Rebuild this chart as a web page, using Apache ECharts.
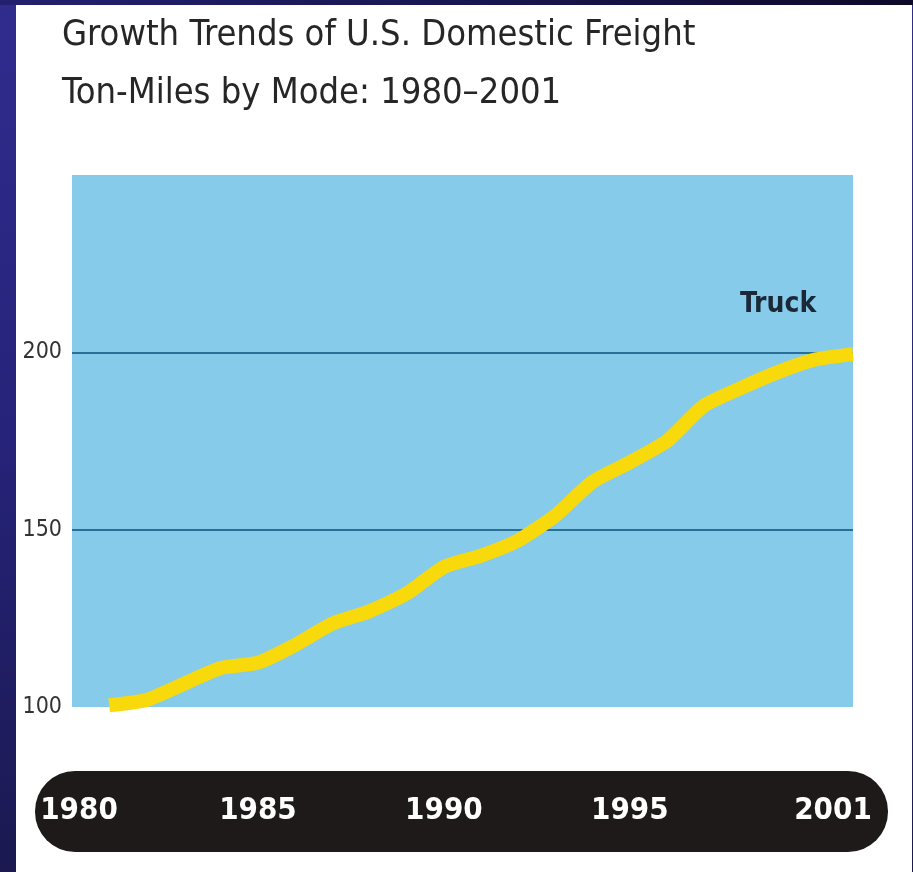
<!DOCTYPE html>
<html>
<head>
<meta charset="utf-8">
<script src="https://cdn.jsdelivr.net/npm/echarts@6/dist/echarts.min.js"></script>
<style>
  html, body { margin: 0; padding: 0; }
  body {
    width: 913px; height: 872px; overflow: hidden; position: relative;
    background: linear-gradient(180deg, #2f2c8e 0%, #26237a 50%, #1b1950 100%);
  }
  #topbar { position: absolute; left: 0; top: 0; width: 913px; height: 5px;
    background: linear-gradient(90deg, #232070 0%, #16144a 60%, #0c0a28 100%); }
  #panel { position: absolute; left: 16px; top: 5px; width: 896px; height: 867px; background: #ffffff; }
  #chart { position: absolute; left: 0; top: 0; width: 913px; height: 872px; }
</style>
</head>
<body>
<div id="topbar"></div>
<div id="panel"></div>
<div id="chart"></div>
<script>
// ---- data ----
const years = [1981, 1982, 1983, 1984, 1985, 1986, 1987, 1988, 1989, 1990, 1991,
               1992, 1993, 1994, 1995, 1996, 1997, 1998, 1999, 2000, 2001];
const truck = [100.5, 102, 106.5, 111, 112.5, 117.5, 123.5, 127, 132, 139.5, 142.7,
               147, 154, 163.5, 169, 175, 185, 190, 194.5, 198, 199.5];
const xTickLabels = [1980, 1985, 1990, 1995, 2001];
const yTickLabels = [100, 150, 200];
const titleLines = ['Growth Trends of U.S. Domestic Freight', 'Ton-Miles by Mode: 1980\u20132001'];
const seriesName = 'Truck';

const narrow = '"Liberation Sans Narrow", "DejaVu Sans Condensed", "Roboto Condensed", sans-serif';
const xLabelBase = { color: '#ffffff', fontFamily: narrow, fontWeight: 'bold', fontSize: 31 };

const chart = echarts.init(document.getElementById('chart'), null, { renderer: 'canvas' });
chart.setOption({
  backgroundColor: 'transparent',
  animation: false,
  graphic: [
    { type: 'text', left: 62, top: 18, z: 5,
      style: { text: titleLines[0], fill: '#262626', font: '36px ' + narrow } },
    { type: 'text', left: 62, top: 76, z: 5,
      style: { text: titleLines[1], fill: '#262626', font: '36px ' + narrow } },
    { type: 'rect', z: 0,
      shape: { x: 35, y: 771, width: 853, height: 81, r: 40 },
      style: { fill: '#1e1a1a' } },
    { type: 'text', left: 740, top: 291, z: 5,
      style: { text: seriesName, fill: '#1b2838', font: 'bold 28px ' + narrow } }
  ],
  grid: {
    left: 72, top: 175, right: 60, bottom: 165,
    show: true, backgroundColor: '#86cbea', borderWidth: 0
  },
  xAxis: {
    type: 'value', min: 1980, max: 2001, interval: 5, z: 10,
    axisLine: { show: false }, axisTick: { show: false }, splitLine: { show: false },
    axisLabel: Object.assign({}, xLabelBase, {
      margin: 104, verticalAlign: 'middle',
      formatter: v => {
        if (!xTickLabels.includes(v)) return '';
        if (v === xTickLabels[0]) return '{first|' + v + '}';
        if (v === xTickLabels[xTickLabels.length - 1]) return '{last|' + v + '}';
        return String(v);
      },
      rich: {
        first: Object.assign({}, xLabelBase, { padding: [0, 0, 0, 14] }),
        last: Object.assign({}, xLabelBase, { padding: [0, 40, 0, 0] })
      }
    })
  },
  yAxis: {
    type: 'value', min: 100, max: 250, interval: 50,
    axisLine: { show: false }, axisTick: { show: false },
    splitLine: { show: true, showMinLine: false, showMaxLine: false,
      lineStyle: { color: '#2a6f98', width: 2 } },
    axisLabel: {
      color: '#333333', fontFamily: narrow, fontSize: 23, margin: 10,
      formatter: v => yTickLabels.includes(v) ? String(v) : ''
    }
  },
  series: [{
    name: seriesName, type: 'line',
    data: years.map((y, i) => [y, truck[i]]),
    showSymbol: false, smooth: 0.2,
    lineStyle: { color: '#f8da0c', width: 14, cap: 'butt', join: 'round' }
  }]
});
</script>
</body>
</html>
